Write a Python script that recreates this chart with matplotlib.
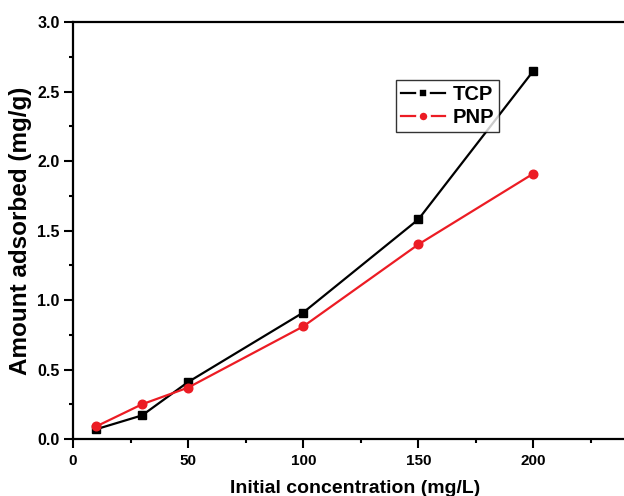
import matplotlib
matplotlib.use("Agg")
import matplotlib.pyplot as plt
from matplotlib.ticker import MultipleLocator, FormatStrFormatter
from matplotlib.lines import Line2D

plt.rcParams['font.family'] = ['Liberation Sans', 'DejaVu Sans']
plt.rcParams['font.weight'] = 'bold'

conc = [10, 30, 50, 100, 150, 200]
tcp = [0.07, 0.17, 0.41, 0.91, 1.58, 2.65]
pnp = [0.09, 0.25, 0.37, 0.81, 1.40, 1.91]
series_names = ['TCP', 'PNP']
colors = ['black', '#ec1c24']

fig = plt.figure(figsize=(6.24, 4.96), dpi=100)
ax = fig.add_axes([0.117, 0.1149, 0.904, 0.8407])

ax.plot(conc, tcp, color=colors[0], marker='s', markersize=5.6, linewidth=1.6)
ax.plot(conc, pnp, color=colors[1], marker='o', markersize=6.2, linewidth=1.6)

ax.set_xlim(0, 245)
ax.set_ylim(0, 3.0)
ax.xaxis.set_major_locator(MultipleLocator(50))
ax.xaxis.set_minor_locator(MultipleLocator(25))
ax.yaxis.set_major_locator(MultipleLocator(0.5))
ax.yaxis.set_minor_locator(MultipleLocator(0.25))
ax.yaxis.set_major_formatter(FormatStrFormatter('%.1f'))

for s in ['left', 'bottom', 'top', 'right']:
    ax.spines[s].set_linewidth(1.6)

ax.tick_params(which='major', direction='out', length=6.5, width=1.5, labelsize=11, pad=4)
ax.tick_params(which='minor', direction='out', length=3, width=1.5)
ax.tick_params(axis='y', labelsize=11.5, pad=3)
for lab in ax.get_xticklabels() + ax.get_yticklabels():
    lab.set_fontweight('bold')

ax.set_xlabel('Initial concentration (mg/L)', fontsize=14, fontweight='bold', labelpad=9)
ax.set_ylabel('Amount adsorbed (mg/g)', fontsize=17.5, fontweight='bold', labelpad=4)

handles = [
    Line2D([], [], color=colors[0], marker='s', markersize=7.5, markeredgewidth=2.6,
           markeredgecolor='white', markerfacecolor=colors[0], linewidth=1.6),
    Line2D([], [], color=colors[1], marker='o', markersize=8, markeredgewidth=2.6,
           markeredgecolor='white', markerfacecolor=colors[1], linewidth=1.6),
]
leg = ax.legend(handles, series_names, loc='upper left', bbox_to_anchor=(396 / 624, 1 - 80 / 496),
                bbox_transform=fig.transFigure, frameon=True, fancybox=False,
                edgecolor='black', fontsize=14.5, handlelength=2.2, handletextpad=0.35,
                borderpad=0.25, labelspacing=0.2, borderaxespad=0)
leg.get_frame().set_linewidth(1.0)
for t in leg.get_texts():
    t.set_fontweight('bold')

fig.savefig('out.png', dpi=100)
